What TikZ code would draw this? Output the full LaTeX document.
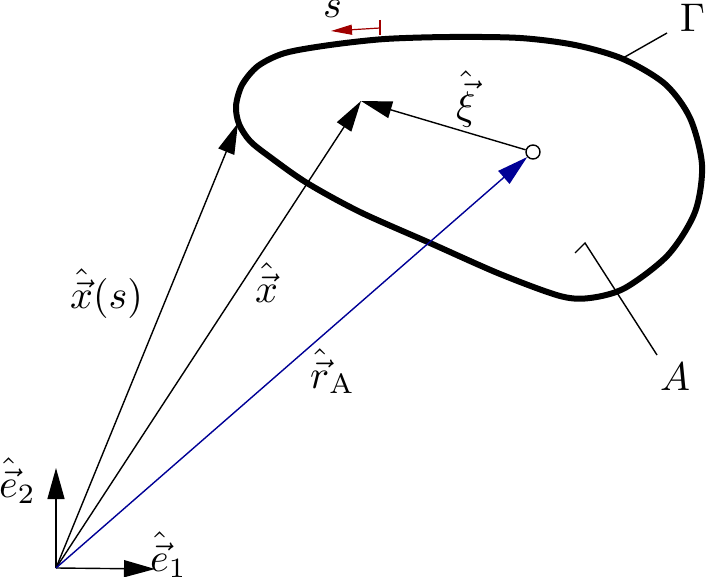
\documentclass[tikz,border=0pt]{standalone}
\usepackage{graphicx}
\usetikzlibrary{arrows.meta}
\definecolor{arrowred}{RGB}{160,0,0}
\definecolor{vecblue}{RGB}{0,0,150}
\newcommand{\bigtxt}[1]{\scalebox{4}{#1}}
\begin{document}
\begin{tikzpicture}[x=1pt,y=-1pt,
  vec/.style={line width=1.4pt,-{Triangle[length=31pt,width=17pt]}},
  lbl/.style={inner sep=0pt,anchor=base west},
  contour/.style={line width=6pt},
  leader/.style={line width=1.4pt},
  refpt/.style={circle,draw,line width=1.4pt,minimum size=14pt,inner sep=0pt}]
\useasboundingbox (0,0) rectangle (709,577);
% contour Gamma
\draw[contour] plot[smooth cycle] coordinates {
 (236,106) (242,85) (258,66) (285,53) (330,45) (385,39) (450,37) (520,38) (575,45)
 (623,59) (665,84) (690,118) (702,165) (695,212) (668,255) (625,288)
 (590,298) (560,296) (500,274) (430,243) (360,212) (307,183) (270,157) (250,141) (239,124)};
% points
\coordinate (O) at (56,568);
\coordinate (E1) at (155,569);
\coordinate (E2) at (56,468);
\coordinate (XS) at (238,123);
\coordinate (X) at (361,101);
\node[refpt] (C) at (533,152) {};
% vectors
\draw[vec] (O) -- (E1);
\draw[vec] (O) -- (E2);
\draw[vec] (O) -- (XS);
\draw[vec] (O) -- (X);
\draw[vec,draw=vecblue,fill=vecblue] (O) -- (C);
\draw[vec] (C) -- (X);
% s direction marker
\coordinate (S0) at (380,28);
\coordinate (S1) at (331,31);
\coordinate (T0) at (380,20);
\coordinate (T1) at (380,35);
\draw[arrowred,line width=1.2pt] (T0) -- (T1);
\draw[arrowred,line width=1.2pt,-{Triangle[length=21pt,width=10pt]}] (S0) -- (S1);
% leaders
\node[lbl] (G) at (680,32) {\bigtxt{$\Gamma$}};
\coordinate (G0) at (667,33);
\coordinate (G1) at (623,58);
\draw[leader] (G0) -- (G1);
\node[lbl] (A) at (660,390) {\bigtxt{$A$}};
\coordinate (A0) at (657,355);
\coordinate (A1) at (585,243);
\coordinate (A2) at (575,253);
\draw[leader] (A0) -- (A1) -- (A2);
% labels
\node[lbl] (LS) at (323,18) {\bigtxt{$s$}};
\node[lbl] (LXS) at (70,308) {\bigtxt{$\hat{\vec{x}}(s)$}};
\node[lbl] (LX) at (255,302) {\bigtxt{$\hat{\vec{x}}$}};
\node[lbl] (LR) at (310,388) {\bigtxt{$\hat{\vec{r}}_{\mathrm{A}}$}};
\node[lbl] (LXI) at (456,120) {\bigtxt{$\hat{\vec{\xi}}$}};
\node[lbl] (LE2) at (-1,497) {\bigtxt{$\hat{\vec{e}}_2$}};
\node[lbl] (LE1) at (150,571) {\bigtxt{$\hat{\vec{e}}_1$}};
\end{tikzpicture}
\end{document}
